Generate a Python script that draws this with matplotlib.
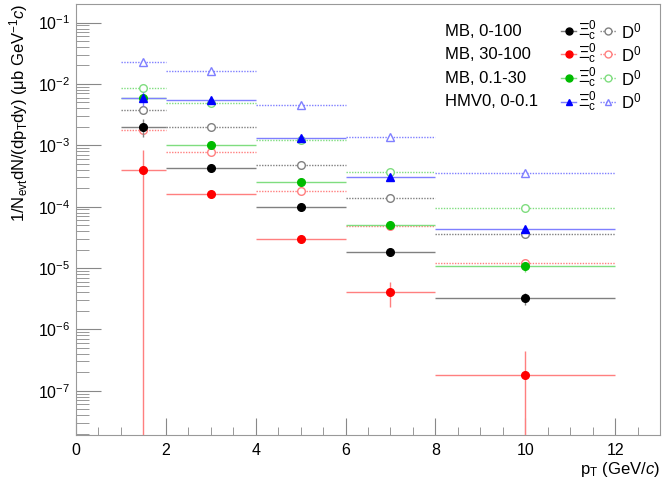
import numpy as np
import matplotlib.pyplot as plt
from matplotlib.ticker import MultipleLocator, LogLocator, FixedLocator

plt.rcParams['font.family'] = ['Liberation Sans', 'DejaVu Sans']
plt.rcParams['mathtext.fontset'] = 'custom'
plt.rcParams['mathtext.rm'] = 'Liberation Sans'
plt.rcParams['mathtext.it'] = 'Liberation Sans:italic'
plt.rcParams['mathtext.bf'] = 'Liberation Sans:bold'

# pT bins
pt = np.array([1.5, 3, 5, 7, 10])
pt_hw = np.array([0.5, 1, 1, 1, 2])

# Xi_c0 yields
xi_mb = [2.0e-3, 4.2e-4, 1.0e-4, 1.8e-5, 3.2e-6]
xi_mb_err = [0.65e-3, 0.3e-4, 0.07e-4, 0.15e-5, 0.7e-6]
xi_hi = [3.9e-4, 1.6e-4, 3.0e-5, 4.1e-6, 1.8e-7]
xi_hi_lo = [3.9e-4 - 1e-10, 0.2e-4, 0.3e-5, 1.75e-6, 1.8e-7 - 1e-10]
xi_hi_up = [4.6e-4, 0.2e-4, 0.3e-5, 1.8e-6, 2.7e-7]
xi_lo = [5.8e-3, 1.0e-3, 2.5e-4, 5.1e-5, 1.07e-5]
xi_lo_err = [0.5e-3, 0.08e-3, 0.2e-4, 0.6e-5, 0.2e-5]
xi_hm = [5.8e-3, 5.4e-3, 1.3e-3, 3.0e-4, 4.4e-5]
xi_hm_err = [1.5e-3, 0.4e-3, 0.1e-3, 0.2e-4, 0.5e-5]

# D0 yields
d_mb = [3.7e-3, 1.96e-3, 4.8e-4, 1.4e-4, 3.6e-5]
d_hi = [1.8e-3, 7.9e-4, 1.8e-4, 4.8e-5, 1.2e-5]
d_lo = [8.5e-3, 4.8e-3, 1.24e-3, 3.7e-4, 9.5e-5]
d_hm = [2.3e-2, 1.6e-2, 4.5e-3, 1.38e-3, 3.6e-4]

labels = ['MB, 0-100', 'MB, 30-100', 'MB, 0.1-30', 'HMV0, 0-0.1']
colors = ['black', 'red', '#00bb00', 'blue']
light = ['#808080', '#ff7f7f', '#7fdd7f', '#7f7fff']
xi_markers = ['o', 'o', 'o', '^']
d_markers = ['o', 'o', 'o', '^']
y_major = [1e-7, 1e-6, 1e-5, 1e-4, 1e-3, 1e-2, 1e-1]

fig = plt.figure(figsize=(6.64, 4.82), dpi=100)
ax = fig.add_axes([0.1145, 0.0975, 0.8795, 0.894])

xi_sets = [(xi_mb, xi_mb_err), (xi_hi, [xi_hi_lo, xi_hi_up]),
           (xi_lo, xi_lo_err), (xi_hm, xi_hm_err)]
d_sets = [d_mb, d_hi, d_lo, d_hm]

for i in range(4):
    # D0: open markers, dotted bin lines
    eb = ax.errorbar(pt, d_sets[i], xerr=pt_hw, fmt=d_markers[i], ms=5.5,
                     mfc='white', mec=light[i], mew=1.0, ecolor=light[i],
                     elinewidth=1.0, capsize=0, zorder=2)
    for lc in eb[2]:
        lc.set_linestyle((0, (1, 1)))
    # Xi_c0: filled markers, solid bin lines
    vals, err = xi_sets[i]
    ax.errorbar(pt, vals, xerr=pt_hw, yerr=err, fmt=xi_markers[i], ms=5.5,
                color=colors[i], ecolor=light[i], elinewidth=1.0,
                capsize=0, zorder=3)

ax.set_yscale('log', nonpositive='clip')
ax.set_xlim(0, 13)
ax.set_ylim(1.9e-8, 0.2)

ax.xaxis.set_major_locator(MultipleLocator(2))
ax.xaxis.set_minor_locator(MultipleLocator(0.5))
ax.yaxis.set_major_locator(FixedLocator(y_major))
ax.yaxis.set_minor_locator(LogLocator(base=10, subs=np.arange(2, 10), numticks=20))

ax.tick_params(which='both', direction='in', top=False, right=False,
               color='#888888', labelsize=11.5)
ax.tick_params(axis='x', which='major', length=12, pad=6)
ax.tick_params(axis='x', which='minor', length=6)
ax.tick_params(axis='y', which='major', length=18, pad=4)
ax.tick_params(axis='y', which='minor', length=9)
for s in ax.spines.values():
    s.set_color('#999999')

ax.set_xlabel(r'p$_{\mathrm{T}}$ (GeV/$\it{c}$)', fontsize=12, loc='right', labelpad=1)
ax.set_ylabel(r'1/N$_{\mathrm{evt}}$dN/(dp$_{\mathrm{T}}$dy) ($\mathrm{\mu}$b GeV$^{-1}$$\it{c}$)',
              fontsize=12, loc='top', labelpad=6)

# legend block
rows_y = [0.9375, 0.884, 0.828, 0.773]
for i in range(4):
    y = rows_y[i]
    ax.text(0.632, y, labels[i], transform=ax.transAxes, fontsize=12,
            va='center', ha='left')
    ax.plot([0.830, 0.856], [y, y], transform=ax.transAxes, color=light[i], lw=1.0)
    ax.plot([0.8435], [y], transform=ax.transAxes, marker=xi_markers[i], ms=5,
            color=colors[i], ls='none')
    ax.text(0.860, y, r'$\Xi^{0}_{\mathrm{c}}$', transform=ax.transAxes,
            fontsize=12, va='center', ha='left')
    ax.plot([0.897, 0.925], [y, y], transform=ax.transAxes, color=light[i],
            lw=1.0, ls=(0, (1, 1)))
    ax.plot([0.911], [y], transform=ax.transAxes, marker=d_markers[i], ms=5,
            mfc='white', mec=light[i], mew=1.0, ls='none')
    ax.text(0.933, y, r'D$^{0}$', transform=ax.transAxes, fontsize=12,
            va='center', ha='left')

fig.savefig('out.png', dpi=100)
